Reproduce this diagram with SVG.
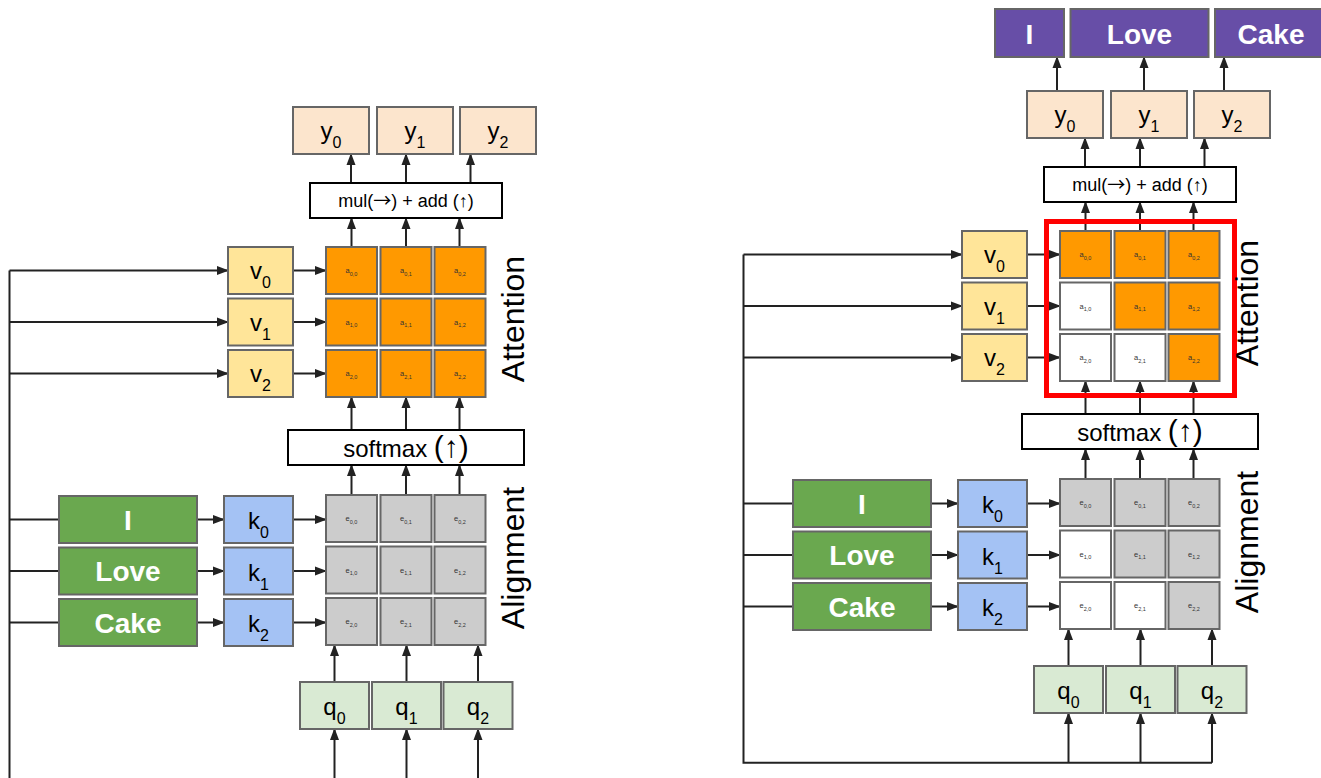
<svg xmlns="http://www.w3.org/2000/svg" width="1321" height="778" viewBox="0 0 1321 778">
<defs>
<style>
.box{stroke:#666;stroke-width:2}
.y{fill:#fce5cd}.v{fill:#ffe599}.k{fill:#a4c2f4}.q{fill:#d9ead3}.w{fill:#6aa84f}.p{fill:#674ea7}
.or{fill:#ff9900}.gr{fill:#cccccc}.wh{fill:#ffffff}
.op{fill:#fff;stroke:#000;stroke-width:2}
text{font-family:"Liberation Sans",Arial,sans-serif;text-anchor:middle}
.lbl{font-size:24px;fill:#000}
.sub{font-size:16px}
.word{font-weight:bold;font-size:28px;fill:#fff}
.cell{font-size:7.5px;fill:#333}
.cs{font-size:5.5px}
.side{font-size:32px;fill:#000}
.opt{font-size:18px;fill:#000}
.smx{font-size:24px;fill:#000}
.arw{font-family:"Noto Sans CJK SC","Liberation Sans",sans-serif}
.ln{stroke:#222;stroke-width:2;fill:none}
.ar{stroke:#222;stroke-width:2;fill:none;marker-end:url(#ah)}
.red{fill:none;stroke:#ff0000;stroke-width:5}
</style>
<marker id="ah" markerWidth="13" markerHeight="10" refX="11" refY="4.5" orient="auto" markerUnits="userSpaceOnUse" overflow="visible"><path d="M0,0 L12,4.5 L0,9 z" fill="#222"/></marker>
</defs>
<rect width="1321" height="778" fill="#fff"/>

<!-- LEFT PANEL -->
<g id="left">
<g id="L-connectors">
<line class="ar" x1="351" y1="183" x2="351" y2="154"/>
<line class="ar" x1="406" y1="183" x2="406" y2="154"/>
<line class="ar" x1="470.5" y1="183" x2="470.5" y2="154"/>
<line class="ar" x1="351.5" y1="247" x2="351.5" y2="218"/>
<line class="ar" x1="406" y1="247" x2="406" y2="218"/>
<line class="ar" x1="459.5" y1="247" x2="459.5" y2="218"/>
<line class="ar" x1="293" y1="270.5" x2="326" y2="270.5"/>
<line class="ar" x1="293" y1="322" x2="326" y2="322"/>
<line class="ar" x1="293" y1="373.5" x2="326" y2="373.5"/>
<line class="ln" x1="9.5" y1="270.5" x2="9.5" y2="780"/>
<line class="ar" x1="9.5" y1="270.5" x2="228" y2="270.5"/>
<line class="ar" x1="9.5" y1="322" x2="228" y2="322"/>
<line class="ar" x1="9.5" y1="373.5" x2="228" y2="373.5"/>
<line class="ar" x1="351.5" y1="430" x2="351.5" y2="397"/>
<line class="ar" x1="406" y1="430" x2="406" y2="397"/>
<line class="ar" x1="459.5" y1="430" x2="459.5" y2="397"/>
<line class="ar" x1="351.5" y1="495" x2="351.5" y2="465"/>
<line class="ar" x1="406" y1="495" x2="406" y2="465"/>
<line class="ar" x1="459.5" y1="495" x2="459.5" y2="465"/>
<line class="ln" x1="9.5" y1="519.5" x2="59" y2="519.5"/>
<line class="ln" x1="9.5" y1="571" x2="59" y2="571"/>
<line class="ln" x1="9.5" y1="622.5" x2="59" y2="622.5"/>
<line class="ar" x1="197" y1="519.5" x2="224" y2="519.5"/>
<line class="ar" x1="197" y1="571" x2="224" y2="571"/>
<line class="ar" x1="197" y1="622.5" x2="224" y2="622.5"/>
<line class="ar" x1="293" y1="519.5" x2="326" y2="519.5"/>
<line class="ar" x1="293" y1="571" x2="326" y2="571"/>
<line class="ar" x1="293" y1="622.5" x2="326" y2="622.5"/>
<line class="ar" x1="334.5" y1="682" x2="334.5" y2="645"/>
<line class="ar" x1="406.5" y1="682" x2="406.5" y2="645"/>
<line class="ar" x1="478" y1="682" x2="478" y2="645"/>
<line class="ar" x1="334.5" y1="780" x2="334.5" y2="729"/>
<line class="ar" x1="406.5" y1="780" x2="406.5" y2="729"/>
<line class="ar" x1="478" y1="780" x2="478" y2="729"/>
</g>
<g id="L-y0"><rect class="box y" x="293" y="107" width="76" height="47"/><text class="lbl" x="331" y="139">y<tspan class="sub" dy="9">0</tspan></text></g>
<g id="L-y1"><rect class="box y" x="377" y="107" width="76" height="47"/><text class="lbl" x="415" y="139">y<tspan class="sub" dy="9">1</tspan></text></g>
<g id="L-y2"><rect class="box y" x="460" y="107" width="76" height="47"/><text class="lbl" x="498" y="139">y<tspan class="sub" dy="9">2</tspan></text></g>
<g id="L-mul"><rect class="op" x="310" y="183" width="192" height="35"/><text class="opt" x="406" y="207">mul(<tspan class="arw">→</tspan>) + add (↑)</text></g>
<g id="L-a00"><rect class="box or" x="326" y="247" width="51" height="47"/><text class="cell" x="351.5" y="273">a<tspan class="cs" dy="2.5">0,0</tspan></text></g>
<g id="L-a01"><rect class="box or" x="380.5" y="247" width="51" height="47"/><text class="cell" x="406" y="273">a<tspan class="cs" dy="2.5">0,1</tspan></text></g>
<g id="L-a02"><rect class="box or" x="434.5" y="247" width="51" height="47"/><text class="cell" x="460" y="273">a<tspan class="cs" dy="2.5">0,2</tspan></text></g>
<g id="L-a10"><rect class="box or" x="326" y="298.5" width="51" height="47"/><text class="cell" x="351.5" y="324.5">a<tspan class="cs" dy="2.5">1,0</tspan></text></g>
<g id="L-a11"><rect class="box or" x="380.5" y="298.5" width="51" height="47"/><text class="cell" x="406" y="324.5">a<tspan class="cs" dy="2.5">1,1</tspan></text></g>
<g id="L-a12"><rect class="box or" x="434.5" y="298.5" width="51" height="47"/><text class="cell" x="460" y="324.5">a<tspan class="cs" dy="2.5">1,2</tspan></text></g>
<g id="L-a20"><rect class="box or" x="326" y="350" width="51" height="47"/><text class="cell" x="351.5" y="376">a<tspan class="cs" dy="2.5">2,0</tspan></text></g>
<g id="L-a21"><rect class="box or" x="380.5" y="350" width="51" height="47"/><text class="cell" x="406" y="376">a<tspan class="cs" dy="2.5">2,1</tspan></text></g>
<g id="L-a22"><rect class="box or" x="434.5" y="350" width="51" height="47"/><text class="cell" x="460" y="376">a<tspan class="cs" dy="2.5">2,2</tspan></text></g>
<g id="L-v0"><rect class="box v" x="228" y="247" width="65" height="47"/><text class="lbl" x="260.5" y="279">v<tspan class="sub" dy="9">0</tspan></text></g>
<g id="L-v1"><rect class="box v" x="228" y="298.5" width="65" height="47"/><text class="lbl" x="260.5" y="330.5">v<tspan class="sub" dy="9">1</tspan></text></g>
<g id="L-v2"><rect class="box v" x="228" y="350" width="65" height="47"/><text class="lbl" x="260.5" y="382">v<tspan class="sub" dy="9">2</tspan></text></g>
<g id="L-softmax"><rect class="op" x="288" y="430" width="236" height="35"/><text class="smx" x="406" y="457">softmax <tspan font-size="30">(↑)</tspan></text></g>
<g id="L-e00"><rect class="box gr" x="326" y="495" width="51" height="47"/><text class="cell" x="351.5" y="521">e<tspan class="cs" dy="2.5">0,0</tspan></text></g>
<g id="L-e01"><rect class="box gr" x="380.5" y="495" width="51" height="47"/><text class="cell" x="406" y="521">e<tspan class="cs" dy="2.5">0,1</tspan></text></g>
<g id="L-e02"><rect class="box gr" x="434.5" y="495" width="51" height="47"/><text class="cell" x="460" y="521">e<tspan class="cs" dy="2.5">0,2</tspan></text></g>
<g id="L-e10"><rect class="box gr" x="326" y="546.5" width="51" height="47"/><text class="cell" x="351.5" y="572.5">e<tspan class="cs" dy="2.5">1,0</tspan></text></g>
<g id="L-e11"><rect class="box gr" x="380.5" y="546.5" width="51" height="47"/><text class="cell" x="406" y="572.5">e<tspan class="cs" dy="2.5">1,1</tspan></text></g>
<g id="L-e12"><rect class="box gr" x="434.5" y="546.5" width="51" height="47"/><text class="cell" x="460" y="572.5">e<tspan class="cs" dy="2.5">1,2</tspan></text></g>
<g id="L-e20"><rect class="box gr" x="326" y="598" width="51" height="47"/><text class="cell" x="351.5" y="624">e<tspan class="cs" dy="2.5">2,0</tspan></text></g>
<g id="L-e21"><rect class="box gr" x="380.5" y="598" width="51" height="47"/><text class="cell" x="406" y="624">e<tspan class="cs" dy="2.5">2,1</tspan></text></g>
<g id="L-e22"><rect class="box gr" x="434.5" y="598" width="51" height="47"/><text class="cell" x="460" y="624">e<tspan class="cs" dy="2.5">2,2</tspan></text></g>
<g id="L-wI"><rect class="box w" x="59" y="496" width="138" height="47"/><text class="word" x="128" y="529.5">I</text></g>
<g id="L-wLove"><rect class="box w" x="59" y="547.5" width="138" height="47"/><text class="word" x="128" y="581">Love</text></g>
<g id="L-wCake"><rect class="box w" x="59" y="599" width="138" height="47"/><text class="word" x="128" y="632.5">Cake</text></g>
<g id="L-k0"><rect class="box k" x="224" y="496" width="69" height="47"/><text class="lbl" x="258.5" y="529">k<tspan class="sub" dy="9">0</tspan></text></g>
<g id="L-k1"><rect class="box k" x="224" y="547.5" width="69" height="47"/><text class="lbl" x="258.5" y="580.5">k<tspan class="sub" dy="9">1</tspan></text></g>
<g id="L-k2"><rect class="box k" x="224" y="599" width="69" height="47"/><text class="lbl" x="258.5" y="632">k<tspan class="sub" dy="9">2</tspan></text></g>
<g id="L-q0"><rect class="box q" x="300" y="682" width="69" height="47"/><text class="lbl" x="334.5" y="715">q<tspan class="sub" dy="9">0</tspan></text></g>
<g id="L-q1"><rect class="box q" x="372" y="682" width="69" height="47"/><text class="lbl" x="406.5" y="715">q<tspan class="sub" dy="9">1</tspan></text></g>
<g id="L-q2"><rect class="box q" x="443.5" y="682" width="69" height="47"/><text class="lbl" x="478" y="715">q<tspan class="sub" dy="9">2</tspan></text></g>
<g id="L-attention"><text class="side" transform="translate(524,319) rotate(-90)">Attention</text></g>
<g id="L-alignment"><text class="side" transform="translate(524,558) rotate(-90)">Alignment</text></g>
</g>

<!-- RIGHT PANEL -->
<g id="right" transform="translate(734,-16)">
<g id="R-connectors">
<line class="ar" x1="323" y1="107" x2="323" y2="73"/>
<line class="ar" x1="410" y1="107" x2="410" y2="73"/>
<line class="ar" x1="490" y1="107" x2="490" y2="73"/>
<line class="ar" x1="351" y1="183" x2="351" y2="154"/>
<line class="ar" x1="406" y1="183" x2="406" y2="154"/>
<line class="ar" x1="470.5" y1="183" x2="470.5" y2="154"/>
<line class="ar" x1="351.5" y1="247" x2="351.5" y2="218"/>
<line class="ar" x1="406" y1="247" x2="406" y2="218"/>
<line class="ar" x1="459.5" y1="247" x2="459.5" y2="218"/>
<line class="ar" x1="293" y1="270.5" x2="326" y2="270.5"/>
<line class="ar" x1="293" y1="322" x2="326" y2="322"/>
<line class="ar" x1="293" y1="373.5" x2="326" y2="373.5"/>
<path class="ln" d="M9.5,270.5 V778.7 H478"/>
<line class="ar" x1="9.5" y1="270.5" x2="228" y2="270.5"/>
<line class="ar" x1="9.5" y1="322" x2="228" y2="322"/>
<line class="ar" x1="9.5" y1="373.5" x2="228" y2="373.5"/>
<line class="ar" x1="351.5" y1="430" x2="351.5" y2="397"/>
<line class="ar" x1="406" y1="430" x2="406" y2="397"/>
<line class="ar" x1="459.5" y1="430" x2="459.5" y2="397"/>
<line class="ar" x1="351.5" y1="495" x2="351.5" y2="465"/>
<line class="ar" x1="406" y1="495" x2="406" y2="465"/>
<line class="ar" x1="459.5" y1="495" x2="459.5" y2="465"/>
<line class="ln" x1="9.5" y1="519.5" x2="59" y2="519.5"/>
<line class="ln" x1="9.5" y1="571" x2="59" y2="571"/>
<line class="ln" x1="9.5" y1="622.5" x2="59" y2="622.5"/>
<line class="ar" x1="197" y1="519.5" x2="224" y2="519.5"/>
<line class="ar" x1="197" y1="571" x2="224" y2="571"/>
<line class="ar" x1="197" y1="622.5" x2="224" y2="622.5"/>
<line class="ar" x1="293" y1="519.5" x2="326" y2="519.5"/>
<line class="ar" x1="293" y1="571" x2="326" y2="571"/>
<line class="ar" x1="293" y1="622.5" x2="326" y2="622.5"/>
<line class="ar" x1="334.5" y1="682" x2="334.5" y2="645"/>
<line class="ar" x1="406.5" y1="682" x2="406.5" y2="645"/>
<line class="ar" x1="478" y1="682" x2="478" y2="645"/>
<line class="ar" x1="334.5" y1="778.7" x2="334.5" y2="729"/>
<line class="ar" x1="406.5" y1="778.7" x2="406.5" y2="729"/>
<line class="ar" x1="478" y1="778.7" x2="478" y2="729"/>
</g>
<g id="R-oI"><rect class="box p" x="261" y="25" width="69" height="48"/><text class="word" x="295.5" y="59.5">I</text></g>
<g id="R-oLove"><rect class="box p" x="336.5" y="25" width="138" height="48"/><text class="word" x="405.5" y="59.5">Love</text></g>
<g id="R-oCake"><rect class="box p" x="481" y="25" width="120" height="48"/><text class="word" x="537" y="59.5">Cake</text></g>
<g id="R-y0"><rect class="box y" x="293" y="107" width="76" height="47"/><text class="lbl" x="331" y="139">y<tspan class="sub" dy="9">0</tspan></text></g>
<g id="R-y1"><rect class="box y" x="377" y="107" width="76" height="47"/><text class="lbl" x="415" y="139">y<tspan class="sub" dy="9">1</tspan></text></g>
<g id="R-y2"><rect class="box y" x="460" y="107" width="76" height="47"/><text class="lbl" x="498" y="139">y<tspan class="sub" dy="9">2</tspan></text></g>
<g id="R-mul"><rect class="op" x="310" y="183" width="192" height="35"/><text class="opt" x="406" y="207">mul(<tspan class="arw">→</tspan>) + add (↑)</text></g>
<g id="R-a00"><rect class="box or" x="326" y="247" width="51" height="47"/><text class="cell" x="351.5" y="273">a<tspan class="cs" dy="2.5">0,0</tspan></text></g>
<g id="R-a01"><rect class="box or" x="380.5" y="247" width="51" height="47"/><text class="cell" x="406" y="273">a<tspan class="cs" dy="2.5">0,1</tspan></text></g>
<g id="R-a02"><rect class="box or" x="434.5" y="247" width="51" height="47"/><text class="cell" x="460" y="273">a<tspan class="cs" dy="2.5">0,2</tspan></text></g>
<g id="R-a10"><rect class="box wh" x="326" y="298.5" width="51" height="47"/><text class="cell" x="351.5" y="324.5">a<tspan class="cs" dy="2.5">1,0</tspan></text></g>
<g id="R-a11"><rect class="box or" x="380.5" y="298.5" width="51" height="47"/><text class="cell" x="406" y="324.5">a<tspan class="cs" dy="2.5">1,1</tspan></text></g>
<g id="R-a12"><rect class="box or" x="434.5" y="298.5" width="51" height="47"/><text class="cell" x="460" y="324.5">a<tspan class="cs" dy="2.5">1,2</tspan></text></g>
<g id="R-a20"><rect class="box wh" x="326" y="350" width="51" height="47"/><text class="cell" x="351.5" y="376">a<tspan class="cs" dy="2.5">2,0</tspan></text></g>
<g id="R-a21"><rect class="box wh" x="380.5" y="350" width="51" height="47"/><text class="cell" x="406" y="376">a<tspan class="cs" dy="2.5">2,1</tspan></text></g>
<g id="R-a22"><rect class="box or" x="434.5" y="350" width="51" height="47"/><text class="cell" x="460" y="376">a<tspan class="cs" dy="2.5">2,2</tspan></text></g>
<g id="R-mask"><rect class="red" x="312.5" y="237.5" width="188" height="174"/></g>
<g id="R-v0"><rect class="box v" x="228" y="247" width="65" height="47"/><text class="lbl" x="260.5" y="279">v<tspan class="sub" dy="9">0</tspan></text></g>
<g id="R-v1"><rect class="box v" x="228" y="298.5" width="65" height="47"/><text class="lbl" x="260.5" y="330.5">v<tspan class="sub" dy="9">1</tspan></text></g>
<g id="R-v2"><rect class="box v" x="228" y="350" width="65" height="47"/><text class="lbl" x="260.5" y="382">v<tspan class="sub" dy="9">2</tspan></text></g>
<g id="R-softmax"><rect class="op" x="288" y="430" width="236" height="35"/><text class="smx" x="406" y="457">softmax <tspan font-size="30">(↑)</tspan></text></g>
<g id="R-e00"><rect class="box gr" x="326" y="495" width="51" height="47"/><text class="cell" x="351.5" y="521">e<tspan class="cs" dy="2.5">0,0</tspan></text></g>
<g id="R-e01"><rect class="box gr" x="380.5" y="495" width="51" height="47"/><text class="cell" x="406" y="521">e<tspan class="cs" dy="2.5">0,1</tspan></text></g>
<g id="R-e02"><rect class="box gr" x="434.5" y="495" width="51" height="47"/><text class="cell" x="460" y="521">e<tspan class="cs" dy="2.5">0,2</tspan></text></g>
<g id="R-e10"><rect class="box wh" x="326" y="546.5" width="51" height="47"/><text class="cell" x="351.5" y="572.5">e<tspan class="cs" dy="2.5">1,0</tspan></text></g>
<g id="R-e11"><rect class="box gr" x="380.5" y="546.5" width="51" height="47"/><text class="cell" x="406" y="572.5">e<tspan class="cs" dy="2.5">1,1</tspan></text></g>
<g id="R-e12"><rect class="box gr" x="434.5" y="546.5" width="51" height="47"/><text class="cell" x="460" y="572.5">e<tspan class="cs" dy="2.5">1,2</tspan></text></g>
<g id="R-e20"><rect class="box wh" x="326" y="598" width="51" height="47"/><text class="cell" x="351.5" y="624">e<tspan class="cs" dy="2.5">2,0</tspan></text></g>
<g id="R-e21"><rect class="box wh" x="380.5" y="598" width="51" height="47"/><text class="cell" x="406" y="624">e<tspan class="cs" dy="2.5">2,1</tspan></text></g>
<g id="R-e22"><rect class="box gr" x="434.5" y="598" width="51" height="47"/><text class="cell" x="460" y="624">e<tspan class="cs" dy="2.5">2,2</tspan></text></g>
<g id="R-wI"><rect class="box w" x="59" y="496" width="138" height="47"/><text class="word" x="128" y="529.5">I</text></g>
<g id="R-wLove"><rect class="box w" x="59" y="547.5" width="138" height="47"/><text class="word" x="128" y="581">Love</text></g>
<g id="R-wCake"><rect class="box w" x="59" y="599" width="138" height="47"/><text class="word" x="128" y="632.5">Cake</text></g>
<g id="R-k0"><rect class="box k" x="224" y="496" width="69" height="47"/><text class="lbl" x="258.5" y="529">k<tspan class="sub" dy="9">0</tspan></text></g>
<g id="R-k1"><rect class="box k" x="224" y="547.5" width="69" height="47"/><text class="lbl" x="258.5" y="580.5">k<tspan class="sub" dy="9">1</tspan></text></g>
<g id="R-k2"><rect class="box k" x="224" y="599" width="69" height="47"/><text class="lbl" x="258.5" y="632">k<tspan class="sub" dy="9">2</tspan></text></g>
<g id="R-q0"><rect class="box q" x="300" y="682" width="69" height="47"/><text class="lbl" x="334.5" y="715">q<tspan class="sub" dy="9">0</tspan></text></g>
<g id="R-q1"><rect class="box q" x="372" y="682" width="69" height="47"/><text class="lbl" x="406.5" y="715">q<tspan class="sub" dy="9">1</tspan></text></g>
<g id="R-q2"><rect class="box q" x="443.5" y="682" width="69" height="47"/><text class="lbl" x="478" y="715">q<tspan class="sub" dy="9">2</tspan></text></g>
<g id="R-attention"><text class="side" transform="translate(524,319) rotate(-90)">Attention</text></g>
<g id="R-alignment"><text class="side" transform="translate(524,558) rotate(-90)">Alignment</text></g>
</g>
</svg>
